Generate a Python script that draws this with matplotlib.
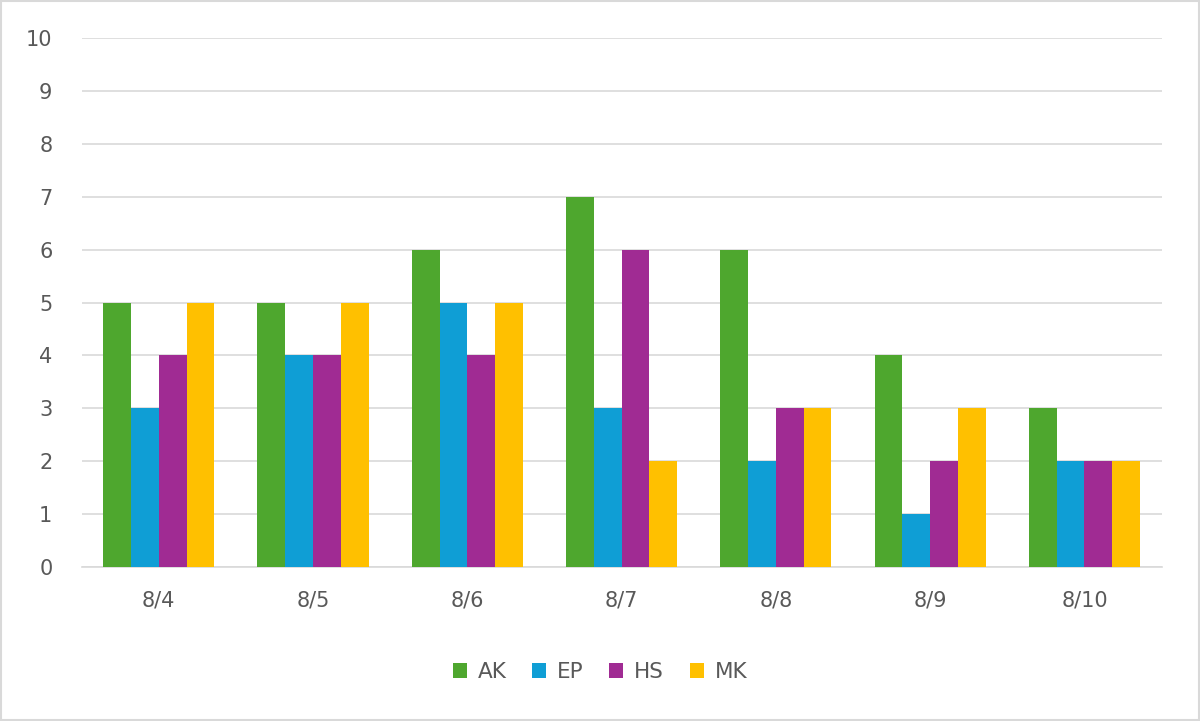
import numpy as np
import matplotlib.pyplot as plt
from matplotlib.patches import Rectangle

# data
dates = ['8/4', '8/5', '8/6', '8/7', '8/8', '8/9', '8/10']
ak = [5, 5, 6, 7, 6, 4, 3]
ep = [3, 4, 5, 3, 2, 1, 2]
hs = [4, 4, 4, 6, 3, 2, 2]
mk = [5, 5, 5, 2, 3, 3, 2]

series = [('AK', ak, '#4EA72E'), ('EP', ep, '#0F9ED5'),
          ('HS', hs, '#A02B93'), ('MK', mk, '#FFC000')]

fig = plt.figure(figsize=(12, 7.21), dpi=100)
ax = fig.add_axes([0.068, 0.2136, 0.9, 0.7334])

x = np.arange(len(dates))
w = 0.18
for i, (name, vals, col) in enumerate(series):
    ax.bar(x + (i - 1.5) * w, vals, width=w, color=col, label=name, zorder=3)

ax.set_xlim(-0.5, len(dates) - 0.5)
ax.set_ylim(0, 10)
ax.set_yticks(range(0, 11))
ax.set_xticks(x)
ax.set_xticklabels(dates)
ax.grid(axis='y', color='#D9D9D9', linewidth=1.2, zorder=0)
for s in ['top', 'right', 'left']:
    ax.spines[s].set_visible(False)
ax.spines['bottom'].set_color('#D9D9D9')
ax.spines['bottom'].set_linewidth(1.2)
ax.tick_params(axis='both', length=0, labelsize=15, labelcolor='#595959')
ax.tick_params(axis='x', pad=17)
ax.tick_params(axis='y', pad=21)

fig.legend(loc='center', bbox_to_anchor=(0.5, 0.068), ncol=4, frameon=False,
           fontsize=15.5, handlelength=0.65, handleheight=0.65, columnspacing=1.2,
           handletextpad=0.5, labelcolor='#595959')

# light border around the whole chart
fig.patches.append(Rectangle((0.001, 0.002), 0.998, 0.996, transform=fig.transFigure,
                             fill=False, edgecolor='#D9D9D9', linewidth=1.5))

fig.savefig('out.png', dpi=100)
